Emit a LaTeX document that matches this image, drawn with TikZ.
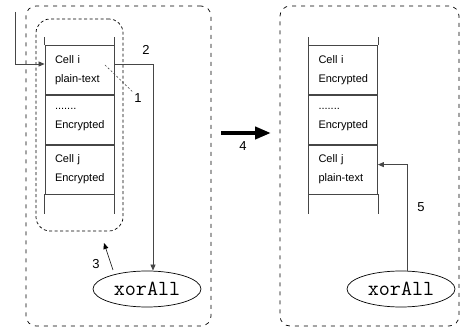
\documentclass[tikz,border=0pt]{standalone}
\usepackage{fontspec}
\setmainfont{Liberation Sans}
\usetikzlibrary{shapes.geometric, arrows.meta, positioning}
\definecolor{linegray}{RGB}{70,70,70}

\begin{document}
\begin{tikzpicture}[
    x=1pt, y=-1pt,
    cell/.style={rectangle, draw=linegray, line width=0.8pt, minimum width=69pt, minimum height=49pt,
                 inner xsep=10pt, inner ysep=0pt, text width=49pt, align=left,
                 font=\fontsize{11}{19}\selectfont},
    region/.style={rectangle, draw, line width=0.7pt, dash pattern=on 4pt off 5pt, rounded corners=10pt},
    buffer/.style={rectangle, draw, line width=0.7pt, dash pattern=on 3pt off 2.5pt, rounded corners=14pt},
    op/.style={ellipse, draw, line width=0.7pt, minimum width=108pt, minimum height=36pt, inner sep=0pt,
               font=\ttfamily\fontsize{21.5}{22}\selectfont},
    num/.style={font=\fontsize{13}{15}\selectfont, inner sep=1pt},
    flow/.style={-{Triangle[length=6pt, width=5pt]}, line width=0.7pt, color=linegray},
    bigarrow/.style={-{Triangle[length=16pt, width=12pt]}, line width=4pt},
]
\useasboundingbox (0,0) rectangle (461,331);

% the two memory regions
\node[region, minimum width=185pt, minimum height=320pt] (lreg) at (118.5,166) {};
\node[region, minimum width=179pt, minimum height=320pt] (rreg) at (369.5,166) {};
\node[buffer, minimum width=87pt, minimum height=212pt] (buf) at (79.5,125) {};

% left stack
\node[cell] (ci) at (79.5,70) {Cell i\\plain-text};
\node[cell, below=0pt of ci] (cm) {.......\\Encrypted};
\node[cell, below=0pt of cm] (cj) {Cell j\\Encrypted};
\draw[linegray, line width=0.8pt] (ci.north west) -- ++(0,-8) (ci.north east) -- ++(0,-8);
\draw[linegray, line width=0.8pt] (cj.south west) -- ++(0,20) (cj.south east) -- ++(0,20);

% right stack
\node[cell] (ri) at (343,70) {Cell i\\Encrypted};
\node[cell, below=0pt of ri] (rm) {.......\\Encrypted};
\node[cell, below=0pt of rm] (rj) {Cell j\\plain-text};
\draw[linegray, line width=0.8pt] (ri.north west) -- ++(0,-8) (ri.north east) -- ++(0,-8);
\draw[linegray, line width=0.8pt] (rj.south west) -- ++(0,20) (rj.south east) -- ++(0,20);

\node[op] (xl) at (147,289) {xorAll};
\node[op] (xr) at (401,289) {xorAll};

% step labels
\node[num] (l1) at (138,98) {1};
\node[num] (l2) at (146,50) {2};
\node[num] (l3) at (96,264) {3};
\node[num] (l4) at (243,146) {4};
\node[num] (l5) at (421,207) {5};

\coordinate (src) at (15,12);
\coordinate (p1) at (105,65);
\coordinate (s3) at (113,270);
\coordinate (e3) at (104,243);
\coordinate (s4) at (221,133);
\coordinate (e4) at (271,133);

\draw[flow] (src) |- ([yshift=6pt]ci.west);
\draw[linegray, line width=0.6pt, dash pattern=on 2pt off 2pt] (p1) -- (l1.north west);
\draw[flow] ([yshift=6pt]ci.east) -| ([xshift=6pt]xl.north);
\draw[-{Triangle[length=6pt, width=5pt]}, line width=0.6pt] (s3) -- (e3);
\draw[bigarrow] (s4) -- (e4);
\draw[flow] ([xshift=6pt]xr.north) |- ([yshift=5pt]rj.east);
\end{tikzpicture}
\end{document}
